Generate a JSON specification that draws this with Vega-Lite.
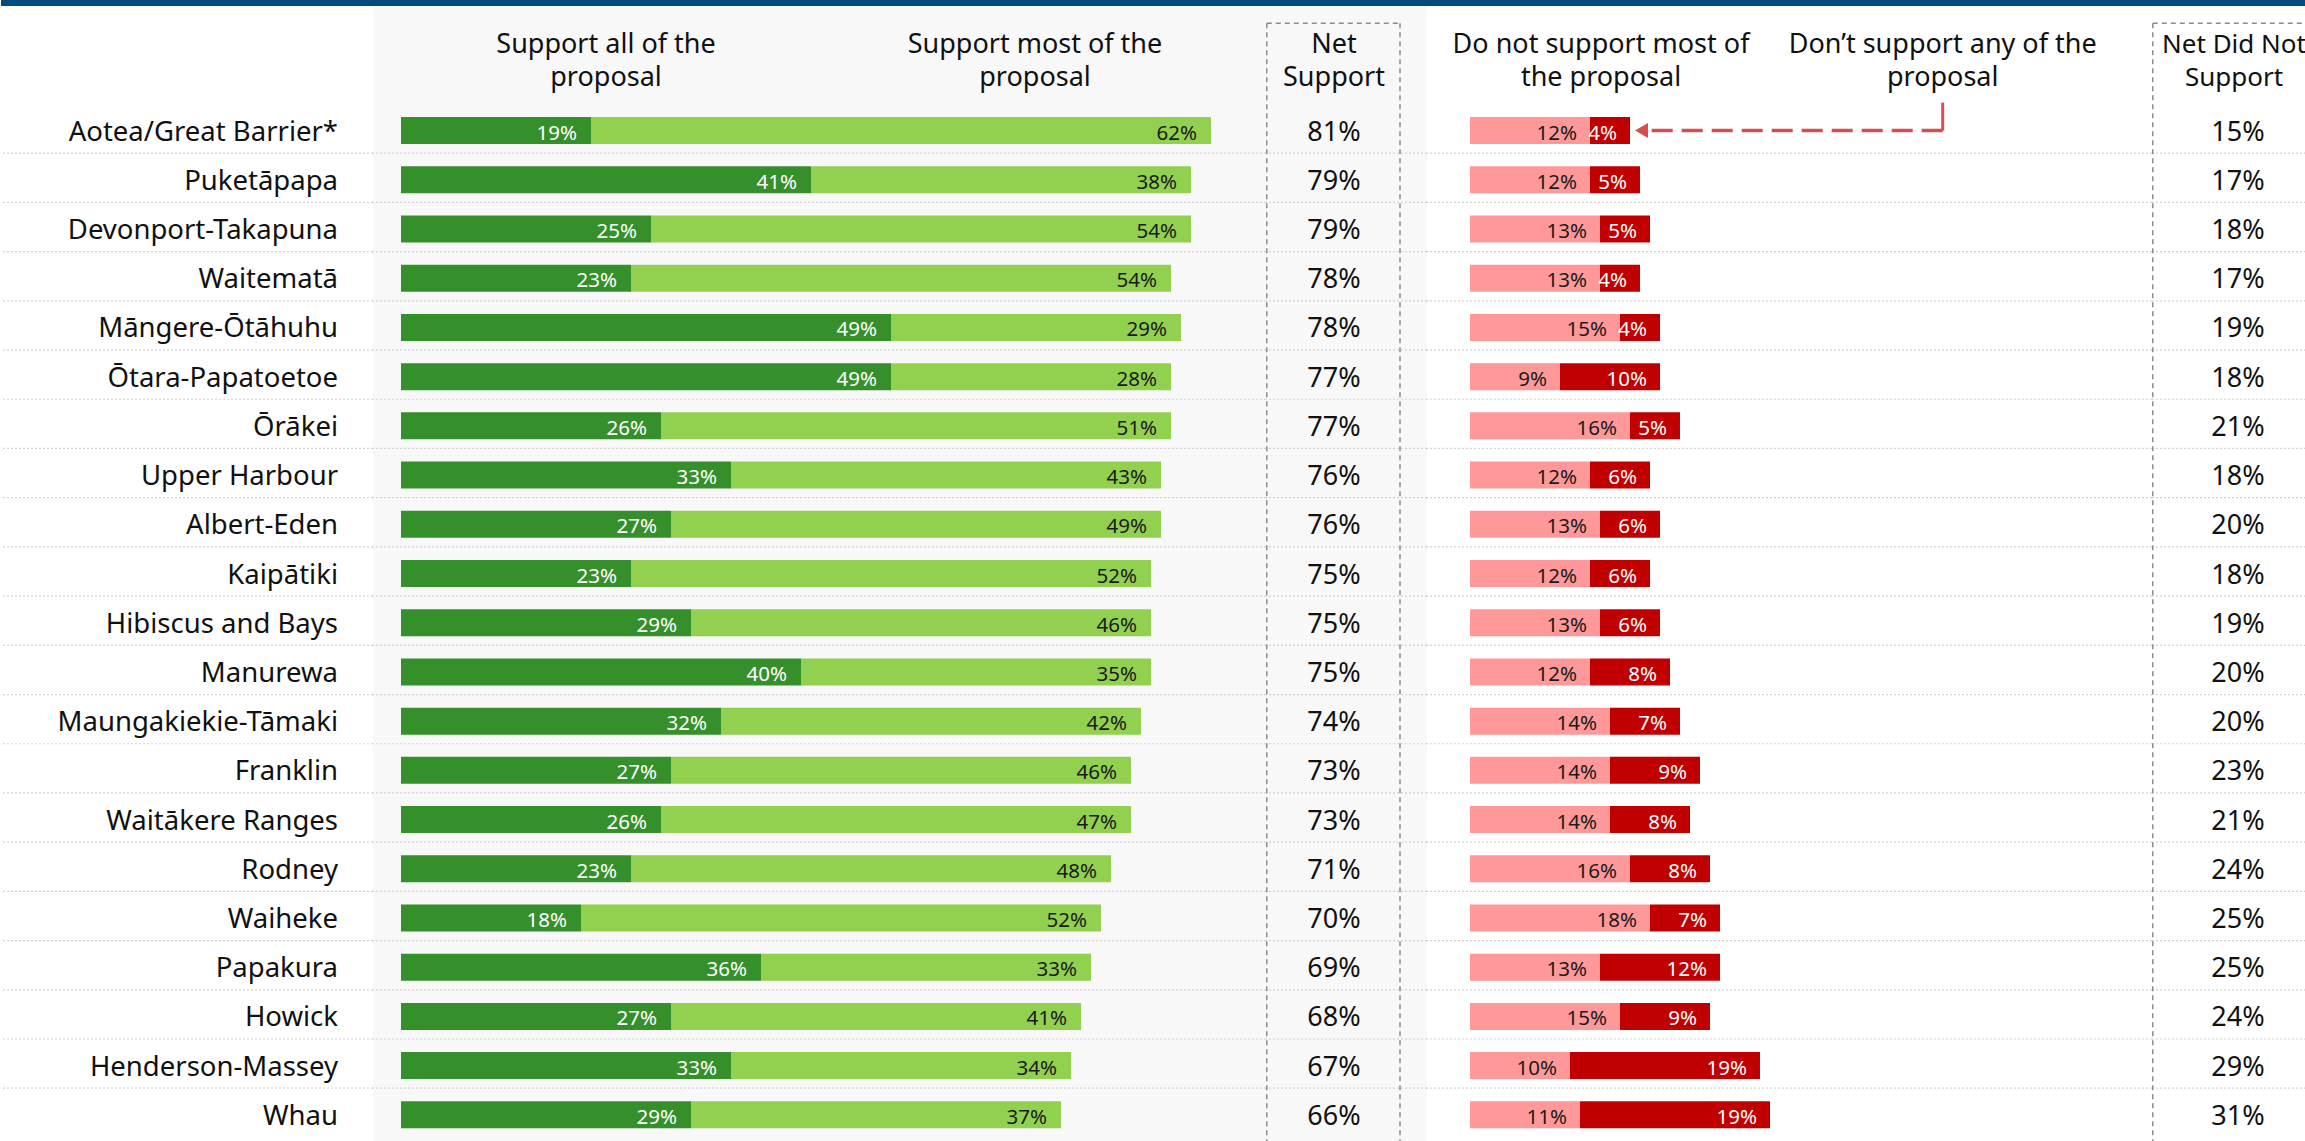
{
  "$schema": "https://vega.github.io/schema/vega-lite/v6.json",
  "padding": 0,
  "background": "#ffffff",
  "spacing": 0,
  "bounds": "flush",
  "config": {"view": {"stroke": null}, "font": "Noto Sans", "concat": {"spacing": 0}},
  "datasets": {
    "rows": [
      {"region": "Aotea/Great Barrier*", "supportAll": 0.19, "supportMost": 0.62, "net": 0.81, "notMost": 0.12, "notAny": 0.04, "netNot": 0.15},
      {"region": "Puketāpapa", "supportAll": 0.41, "supportMost": 0.38, "net": 0.79, "notMost": 0.12, "notAny": 0.05, "netNot": 0.17},
      {"region": "Devonport-Takapuna", "supportAll": 0.25, "supportMost": 0.54, "net": 0.79, "notMost": 0.13, "notAny": 0.05, "netNot": 0.18},
      {"region": "Waitematā", "supportAll": 0.23, "supportMost": 0.54, "net": 0.78, "notMost": 0.13, "notAny": 0.04, "netNot": 0.17},
      {"region": "Māngere-Ōtāhuhu", "supportAll": 0.49, "supportMost": 0.29, "net": 0.78, "notMost": 0.15, "notAny": 0.04, "netNot": 0.19},
      {"region": "Ōtara-Papatoetoe", "supportAll": 0.49, "supportMost": 0.28, "net": 0.77, "notMost": 0.09, "notAny": 0.10, "netNot": 0.18},
      {"region": "Ōrākei", "supportAll": 0.26, "supportMost": 0.51, "net": 0.77, "notMost": 0.16, "notAny": 0.05, "netNot": 0.21},
      {"region": "Upper Harbour", "supportAll": 0.33, "supportMost": 0.43, "net": 0.76, "notMost": 0.12, "notAny": 0.06, "netNot": 0.18},
      {"region": "Albert-Eden", "supportAll": 0.27, "supportMost": 0.49, "net": 0.76, "notMost": 0.13, "notAny": 0.06, "netNot": 0.20},
      {"region": "Kaipātiki", "supportAll": 0.23, "supportMost": 0.52, "net": 0.75, "notMost": 0.12, "notAny": 0.06, "netNot": 0.18},
      {"region": "Hibiscus and Bays", "supportAll": 0.29, "supportMost": 0.46, "net": 0.75, "notMost": 0.13, "notAny": 0.06, "netNot": 0.19},
      {"region": "Manurewa", "supportAll": 0.40, "supportMost": 0.35, "net": 0.75, "notMost": 0.12, "notAny": 0.08, "netNot": 0.20},
      {"region": "Maungakiekie-Tāmaki", "supportAll": 0.32, "supportMost": 0.42, "net": 0.74, "notMost": 0.14, "notAny": 0.07, "netNot": 0.20},
      {"region": "Franklin", "supportAll": 0.27, "supportMost": 0.46, "net": 0.73, "notMost": 0.14, "notAny": 0.09, "netNot": 0.23},
      {"region": "Waitākere Ranges", "supportAll": 0.26, "supportMost": 0.47, "net": 0.73, "notMost": 0.14, "notAny": 0.08, "netNot": 0.21},
      {"region": "Rodney", "supportAll": 0.23, "supportMost": 0.48, "net": 0.71, "notMost": 0.16, "notAny": 0.08, "netNot": 0.24},
      {"region": "Waiheke", "supportAll": 0.18, "supportMost": 0.52, "net": 0.70, "notMost": 0.18, "notAny": 0.07, "netNot": 0.25},
      {"region": "Papakura", "supportAll": 0.36, "supportMost": 0.33, "net": 0.69, "notMost": 0.13, "notAny": 0.12, "netNot": 0.25},
      {"region": "Howick", "supportAll": 0.27, "supportMost": 0.41, "net": 0.68, "notMost": 0.15, "notAny": 0.09, "netNot": 0.24},
      {"region": "Henderson-Massey", "supportAll": 0.33, "supportMost": 0.34, "net": 0.67, "notMost": 0.10, "notAny": 0.19, "netNot": 0.29},
      {"region": "Whau", "supportAll": 0.29, "supportMost": 0.37, "net": 0.66, "notMost": 0.11, "notAny": 0.19, "netNot": 0.31}
    ]
  },
  "vconcat": [
    {
      "width": 2305, "height": 6,
      "view": {"fill": "#044b7f", "stroke": null},
      "data": {"values": [{}]},
      "mark": {"type": "point", "opacity": 0},
      "encoding": {}
    },
    {
      "spacing": 0,
      "bounds": "flush",
      "resolve": {"scale": {"color": "independent", "x": "independent"}},
      "hconcat": [
        {
          "width": 372, "height": 1135,
          "data": {"name": "rows"},
          "layer": [
            {
              "transform": [{"filter": "datum.region != 'Whau'"}],
              "mark": {"type": "rule", "color": "#d2d2d2", "strokeDash": [2, 2], "strokeWidth": 1.2, "yOffset": -2},
              "encoding": {"y": {"field": "region", "type": "nominal", "bandPosition": 1, "axis": null,
                "scale": {"domain": ["h1", "h2", "Aotea/Great Barrier*", "Puketāpapa", "Devonport-Takapuna", "Waitematā", "Māngere-Ōtāhuhu", "Ōtara-Papatoetoe", "Ōrākei", "Upper Harbour", "Albert-Eden", "Kaipātiki", "Hibiscus and Bays", "Manurewa", "Maungakiekie-Tāmaki", "Franklin", "Waitākere Ranges", "Rodney", "Waiheke", "Papakura", "Howick", "Henderson-Massey", "Whau"], "paddingInner": 0, "paddingOuter": 0.032}}}
            },
            {
              "mark": {"type": "text", "align": "right", "baseline": "middle", "fontSize": 27.5, "dx": -35, "yOffset": 2, "color": "#111111"},
              "encoding": {
                "y": {"field": "region", "type": "nominal", "axis": null},
                "x": {"datum": 1, "type": "quantitative", "scale": {"domain": [0, 1]}, "axis": null},
                "text": {"field": "region"}
              }
            }
          ]
        },
        {
          "width": 893, "height": 1135,
          "view": {"fill": "#f8f8f8", "stroke": null},
          "data": {"name": "rows"},
          "layer": [
            {
              "transform": [{"filter": "datum.region != 'Whau'"}],
              "mark": {"type": "rule", "color": "#d2d2d2", "strokeDash": [2, 2], "strokeWidth": 1.2, "yOffset": -2},
              "encoding": {"y": {"field": "region", "type": "nominal", "bandPosition": 1, "axis": null,
                "scale": {"domain": ["h1", "h2", "Aotea/Great Barrier*", "Puketāpapa", "Devonport-Takapuna", "Waitematā", "Māngere-Ōtāhuhu", "Ōtara-Papatoetoe", "Ōrākei", "Upper Harbour", "Albert-Eden", "Kaipātiki", "Hibiscus and Bays", "Manurewa", "Maungakiekie-Tāmaki", "Franklin", "Waitākere Ranges", "Rodney", "Waiheke", "Papakura", "Howick", "Henderson-Massey", "Whau"], "paddingInner": 0, "paddingOuter": 0.032}}}
            },
            {
              "data": {"values": [{"t": "Support all of the\nproposal"}]},
              "mark": {"type": "text", "align": "center", "baseline": "alphabetic", "fontSize": 27, "lineHeight": 33, "lineBreak": "\n", "yOffset": 21, "color": "#111111"},
              "encoding": {
                "x": {"datum": 0.205, "type": "quantitative", "scale": {"domain": [-0.028, 0.865], "nice": false, "zero": false}, "axis": null},
                "y": {"datum": "h1", "type": "nominal", "axis": null},
                "text": {"field": "t"}
              }
            },
            {
              "data": {"values": [{"t": "Support most of the\nproposal"}]},
              "mark": {"type": "text", "align": "center", "baseline": "alphabetic", "fontSize": 27, "lineHeight": 33, "lineBreak": "\n", "yOffset": 21, "color": "#111111"},
              "encoding": {
                "x": {"datum": 0.634, "type": "quantitative", "axis": null},
                "y": {"datum": "h1", "type": "nominal", "axis": null},
                "text": {"field": "t"}
              }
            },
            {
              "transform": [{"fold": ["supportAll", "supportMost"], "as": ["seg", "pct"]}],
              "layer": [
                {
                  "mark": {"type": "bar", "height": 27},
                  "encoding": {
                    "y": {"field": "region", "type": "nominal", "axis": null},
                    "x": {"field": "pct", "type": "quantitative", "stack": "zero", "axis": null},
                    "color": {"field": "seg", "type": "nominal", "scale": {"domain": ["supportAll", "supportMost"], "range": ["#35902b", "#92d050"]}, "legend": null},
                    "order": {"field": "seg", "type": "ordinal", "sort": "ascending"}
                  }
                },
                {
                  "mark": {"type": "text", "align": "right", "baseline": "middle", "fontSize": 20.5, "dx": -14, "yOffset": 3},
                  "encoding": {
                    "y": {"field": "region", "type": "nominal", "axis": null},
                    "x": {"field": "pct", "type": "quantitative", "stack": "zero", "axis": null},
                    "text": {"field": "pct", "type": "quantitative", "format": ".0%"},
                    "color": {"condition": {"test": "datum.seg == 'supportAll'", "value": "#ffffff"}, "value": "#1a1a1a"},
                    "order": {"field": "seg", "type": "ordinal", "sort": "ascending"}
                  }
                }
              ]
            }
          ]
        },
        {
          "width": 161, "height": 1135,
          "view": {"fill": "#f8f8f8", "stroke": null},
          "data": {"name": "rows"},
          "layer": [
            {
              "transform": [{"filter": "datum.region != 'Whau'"}],
              "mark": {"type": "rule", "color": "#d2d2d2", "strokeDash": [2, 2], "strokeWidth": 1.2, "yOffset": -2},
              "encoding": {"y": {"field": "region", "type": "nominal", "bandPosition": 1, "axis": null,
                "scale": {"domain": ["h1", "h2", "Aotea/Great Barrier*", "Puketāpapa", "Devonport-Takapuna", "Waitematā", "Māngere-Ōtāhuhu", "Ōtara-Papatoetoe", "Ōrākei", "Upper Harbour", "Albert-Eden", "Kaipātiki", "Hibiscus and Bays", "Manurewa", "Maungakiekie-Tāmaki", "Franklin", "Waitākere Ranges", "Rodney", "Waiheke", "Papakura", "Howick", "Henderson-Massey", "Whau"], "paddingInner": 0, "paddingOuter": 0.032}}}
            },
            {
              "data": {"values": [{"edge": 0.8}, {"edge": 134}]},
              "mark": {"type": "rule", "color": "#8c8c8c", "strokeDash": [5, 4], "strokeWidth": 1.5, "yOffset": -8.9, "y2Offset": 40, "clip": true},
              "encoding": {
                "x": {"field": "edge", "type": "quantitative", "scale": {"domain": [0, 161], "nice": false, "zero": false}, "axis": null},
                "y": {"datum": "h1", "type": "nominal", "axis": null},
                "y2": {"datum": "Whau"}
              }
            },
            {
              "data": {"values": [{}]},
              "mark": {"type": "rule", "color": "#8c8c8c", "strokeDash": [5, 4], "strokeWidth": 1.5, "yOffset": -8.9, "clip": true},
              "encoding": {
                "x": {"datum": 0.8, "type": "quantitative", "axis": null},
                "x2": {"datum": 134},
                "y": {"datum": "h1", "type": "nominal", "axis": null}
              }
            },
            {
              "data": {"values": [{"t": "Net\nSupport"}]},
              "mark": {"type": "text", "align": "center", "baseline": "alphabetic", "fontSize": 27, "lineHeight": 33, "lineBreak": "\n", "yOffset": 21, "color": "#111111"},
              "encoding": {
                "x": {"datum": 68, "type": "quantitative", "axis": null},
                "y": {"datum": "h1", "type": "nominal", "axis": null},
                "text": {"field": "t"}
              }
            },
            {
              "mark": {"type": "text", "align": "center", "baseline": "middle", "fontSize": 27, "yOffset": 2, "color": "#111111"},
              "encoding": {
                "x": {"datum": 68, "type": "quantitative", "axis": null},
                "y": {"field": "region", "type": "nominal", "axis": null},
                "text": {"field": "net", "type": "quantitative", "format": ".0%"}
              }
            }
          ]
        },
        {
          "width": 725, "height": 1135,
          "data": {"name": "rows"},
          "layer": [
            {
              "transform": [{"filter": "datum.region != 'Whau'"}],
              "mark": {"type": "rule", "color": "#d2d2d2", "strokeDash": [2, 2], "strokeWidth": 1.2, "yOffset": -2},
              "encoding": {"y": {"field": "region", "type": "nominal", "bandPosition": 1, "axis": null,
                "scale": {"domain": ["h1", "h2", "Aotea/Great Barrier*", "Puketāpapa", "Devonport-Takapuna", "Waitematā", "Māngere-Ōtāhuhu", "Ōtara-Papatoetoe", "Ōrākei", "Upper Harbour", "Albert-Eden", "Kaipātiki", "Hibiscus and Bays", "Manurewa", "Maungakiekie-Tāmaki", "Franklin", "Waitākere Ranges", "Rodney", "Waiheke", "Papakura", "Howick", "Henderson-Massey", "Whau"], "paddingInner": 0, "paddingOuter": 0.032}}}
            },
            {
              "data": {"values": [{"t": "Do not support most of\nthe proposal"}]},
              "mark": {"type": "text", "align": "center", "baseline": "alphabetic", "fontSize": 27, "lineHeight": 33, "lineBreak": "\n", "yOffset": 21, "color": "#111111"},
              "encoding": {
                "x": {"datum": 0.131, "type": "quantitative", "scale": {"domain": [-0.043, 0.682], "nice": false, "zero": false}, "axis": null},
                "y": {"datum": "h1", "type": "nominal", "axis": null},
                "text": {"field": "t"}
              }
            },
            {
              "data": {"values": [{"t": "Don’t support any of the\nproposal"}]},
              "mark": {"type": "text", "align": "center", "baseline": "alphabetic", "fontSize": 27, "lineHeight": 33, "lineBreak": "\n", "yOffset": 21, "color": "#111111"},
              "encoding": {
                "x": {"datum": 0.4727, "type": "quantitative", "axis": null},
                "y": {"datum": "h1", "type": "nominal", "axis": null},
                "text": {"field": "t"}
              }
            },
            {
              "transform": [{"fold": ["notMost", "notAny"], "as": ["seg", "pct"]}],
              "layer": [
                {
                  "mark": {"type": "bar", "height": 27},
                  "encoding": {
                    "y": {"field": "region", "type": "nominal", "axis": null},
                    "x": {"field": "pct", "type": "quantitative", "stack": "zero", "axis": null},
                    "color": {"field": "seg", "type": "nominal", "scale": {"domain": ["notMost", "notAny"], "range": ["#ff9999", "#c00000"]}, "legend": null},
                    "order": {"field": "seg", "type": "ordinal", "sort": "descending"}
                  }
                },
                {
                  "mark": {"type": "text", "align": "right", "baseline": "middle", "fontSize": 20.5, "dx": -13, "yOffset": 3},
                  "encoding": {
                    "y": {"field": "region", "type": "nominal", "axis": null},
                    "x": {"field": "pct", "type": "quantitative", "stack": "zero", "axis": null},
                    "text": {"field": "pct", "type": "quantitative", "format": ".0%"},
                    "color": {"condition": {"test": "datum.seg == 'notAny'", "value": "#ffffff"}, "value": "#1a1a1a"},
                    "order": {"field": "seg", "type": "ordinal", "sort": "descending"}
                  }
                }
              ]
            },
            {
              "data": {"values": [{}]},
              "mark": {"type": "rule", "color": "#d64f4f", "strokeWidth": 3, "yOffset": -28},
              "encoding": {
                "x": {"datum": 0.4727, "type": "quantitative", "axis": null},
                "y": {"datum": "Aotea/Great Barrier*", "type": "nominal", "axis": null},
                "y2": {"datum": "Aotea/Great Barrier*"}
              }
            },
            {
              "data": {"values": [{}]},
              "mark": {"type": "rule", "color": "#d64f4f", "strokeWidth": 3.5, "strokeDash": [21, 9]},
              "encoding": {
                "x": {"datum": 0.4727, "type": "quantitative", "axis": null},
                "x2": {"datum": 0.178},
                "y": {"datum": "Aotea/Great Barrier*", "type": "nominal", "axis": null}
              }
            },
            {
              "data": {"values": [{}]},
              "mark": {"type": "point", "shape": "triangle-left", "size": 225, "filled": true, "opacity": 1, "color": "#d64f4f"},
              "encoding": {
                "x": {"datum": 0.1715, "type": "quantitative", "axis": null},
                "y": {"datum": "Aotea/Great Barrier*", "type": "nominal", "axis": null}
              }
            }
          ]
        },
        {
          "width": 154, "height": 1135,
          "data": {"name": "rows"},
          "layer": [
            {
              "transform": [{"filter": "datum.region != 'Whau'"}],
              "mark": {"type": "rule", "color": "#d2d2d2", "strokeDash": [2, 2], "strokeWidth": 1.2, "yOffset": -2},
              "encoding": {"y": {"field": "region", "type": "nominal", "bandPosition": 1, "axis": null,
                "scale": {"domain": ["h1", "h2", "Aotea/Great Barrier*", "Puketāpapa", "Devonport-Takapuna", "Waitematā", "Māngere-Ōtāhuhu", "Ōtara-Papatoetoe", "Ōrākei", "Upper Harbour", "Albert-Eden", "Kaipātiki", "Hibiscus and Bays", "Manurewa", "Maungakiekie-Tāmaki", "Franklin", "Waitākere Ranges", "Rodney", "Waiheke", "Papakura", "Howick", "Henderson-Massey", "Whau"], "paddingInner": 0, "paddingOuter": 0.032}}}
            },
            {
              "data": {"values": [{}]},
              "mark": {"type": "rule", "color": "#8c8c8c", "strokeDash": [5, 4], "strokeWidth": 1.5, "yOffset": -8.9, "y2Offset": 40, "clip": true},
              "encoding": {
                "x": {"datum": 0.8, "type": "quantitative", "scale": {"domain": [0, 154], "nice": false, "zero": false}, "axis": null},
                "y": {"datum": "h1", "type": "nominal", "axis": null},
                "y2": {"datum": "Whau"}
              }
            },
            {
              "data": {"values": [{}]},
              "mark": {"type": "rule", "color": "#8c8c8c", "strokeDash": [5, 4], "strokeWidth": 1.5, "yOffset": -8.9, "clip": true},
              "encoding": {
                "x": {"datum": 0.8, "type": "quantitative", "axis": null},
                "x2": {"datum": 170},
                "y": {"datum": "h1", "type": "nominal", "axis": null}
              }
            },
            {
              "data": {"values": [{"t": "Net Did Not\nSupport"}]},
              "mark": {"type": "text", "align": "center", "baseline": "alphabetic", "fontSize": 26, "lineHeight": 33, "lineBreak": "\n", "yOffset": 21, "color": "#111111"},
              "encoding": {
                "x": {"datum": 82, "type": "quantitative", "axis": null},
                "y": {"datum": "h1", "type": "nominal", "axis": null},
                "text": {"field": "t"}
              }
            },
            {
              "mark": {"type": "text", "align": "center", "baseline": "middle", "fontSize": 27, "yOffset": 2, "color": "#111111"},
              "encoding": {
                "x": {"datum": 86, "type": "quantitative", "axis": null},
                "y": {"field": "region", "type": "nominal", "axis": null},
                "text": {"field": "netNot", "type": "quantitative", "format": ".0%"}
              }
            }
          ]
        }
      ]
    }
  ]
}
